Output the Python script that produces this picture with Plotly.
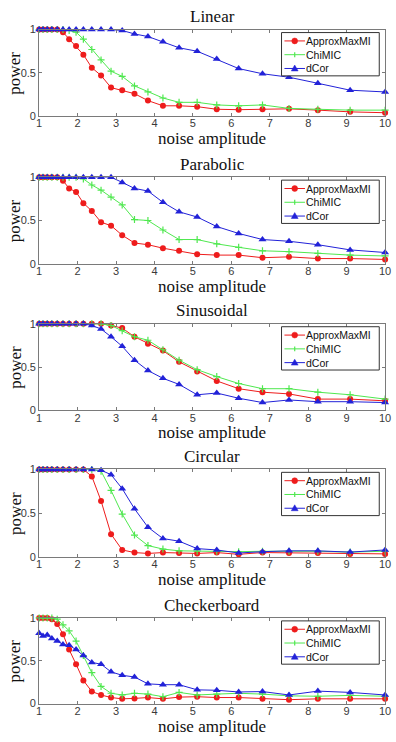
import plotly.graph_objects as go

# ---- data ----
noise = [1.00, 1.10, 1.21, 1.33, 1.47, 1.62, 1.78, 1.96, 2.15, 2.37, 2.61, 2.87, 3.16,
         3.48, 3.83, 4.22, 4.64, 5.11, 5.62, 6.19, 6.81, 7.50, 8.25, 9.09, 10.00]

panels = ["Linear", "Parabolic", "Sinusoidal", "Circular", "Checkerboard"]
series_names = ["ApproxMaxMI", "ChiMIC", "dCor"]

linear_approx = [1, 1, 1, 1, 1, 0.97, 0.89, 0.81, 0.71, 0.56, 0.47, 0.33, 0.30, 0.26, 0.18,
                 0.12, 0.12, 0.11, 0.08, 0.075, 0.08, 0.085, 0.07, 0.05, 0.04]
linear_chimic = [1, 1, 1, 1, 1, 1, 0.99, 0.97, 0.89, 0.77, 0.65, 0.52, 0.46, 0.35, 0.28,
                 0.21, 0.16, 0.16, 0.13, 0.12, 0.13, 0.09, 0.08, 0.07, 0.07]
linear_dcor = [1, 1, 1, 1, 1, 1, 1, 1, 1, 1, 1, 1, 0.99, 0.95, 0.92,
               0.86, 0.79, 0.75, 0.66, 0.55, 0.49, 0.45, 0.38, 0.30, 0.28]

parabolic_approx = [1, 1, 1, 1, 1, 0.96, 0.87, 0.83, 0.70, 0.61, 0.48, 0.44, 0.33, 0.24, 0.22,
                    0.18, 0.15, 0.11, 0.10, 0.10, 0.07, 0.08, 0.06, 0.06, 0.05]
parabolic_chimic = [1, 1, 1, 1, 1, 1, 1, 1, 0.98, 0.91, 0.85, 0.77, 0.68, 0.51, 0.50,
                    0.39, 0.28, 0.28, 0.23, 0.19, 0.15, 0.14, 0.12, 0.10, 0.09]
parabolic_dcor = [1, 1, 1, 1, 1, 1, 1, 1, 1, 1, 1, 1, 0.94, 0.87, 0.84,
                  0.71, 0.60, 0.54, 0.43, 0.35, 0.28, 0.26, 0.22, 0.16, 0.13]

sinusoidal_approx = [1, 1, 1, 1, 1, 1, 1, 1, 1, 1, 1, 0.98, 0.95, 0.85, 0.77,
                     0.69, 0.56, 0.45, 0.34, 0.25, 0.21, 0.19, 0.13, 0.13, 0.11]
sinusoidal_chimic = [1, 1, 1, 1, 1, 1, 1, 1, 1, 1, 1, 0.98, 0.92, 0.85, 0.81,
                     0.70, 0.58, 0.47, 0.39, 0.31, 0.25, 0.25, 0.21, 0.18, 0.13]
sinusoidal_dcor = [1, 1, 1, 1, 1, 1, 1, 1, 1, 0.98, 0.94, 0.85, 0.74, 0.58, 0.46,
                   0.37, 0.30, 0.18, 0.20, 0.14, 0.09, 0.12, 0.10, 0.10, 0.09]

circular_approx = [1, 1, 1, 1, 1, 1, 1, 1, 1, 0.92, 0.64, 0.26, 0.08, 0.05, 0.04,
                   0.05, 0.045, 0.04, 0.05, 0.03, 0.05, 0.045, 0.045, 0.035, 0.035]
circular_chimic = [1, 1, 1, 1, 1, 1, 1, 1, 1, 1, 0.98, 0.76, 0.49, 0.25, 0.13,
                   0.09, 0.07, 0.065, 0.065, 0.06, 0.065, 0.065, 0.065, 0.055, 0.065]
circular_dcor = [1, 1, 1, 1, 1, 1, 1, 1, 1, 1, 0.99, 0.94, 0.78, 0.55, 0.34,
                 0.21, 0.18, 0.095, 0.08, 0.045, 0.06, 0.07, 0.07, 0.055, 0.08]

checker_approx = [1, 1, 1, 0.985, 0.93, 0.81, 0.63, 0.46, 0.27, 0.14, 0.10, 0.07, 0.055, 0.06, 0.07,
                  0.055, 0.075, 0.08, 0.07, 0.07, 0.055, 0.045, 0.055, 0.055, 0.055]
checker_chimic = [1, 1, 1, 1, 0.985, 0.92, 0.85, 0.73, 0.56, 0.36, 0.20, 0.12, 0.10, 0.12, 0.11,
                  0.08, 0.13, 0.10, 0.11, 0.12, 0.11, 0.09, 0.085, 0.095, 0.085]
checker_dcor = [0.82, 0.79, 0.80, 0.76, 0.73, 0.69, 0.68, 0.63, 0.56, 0.48, 0.46, 0.37, 0.33, 0.31, 0.23,
                0.22, 0.22, 0.16, 0.155, 0.135, 0.14, 0.10, 0.145, 0.13, 0.10]

panel_data = [
    (linear_approx, linear_chimic, linear_dcor),
    (parabolic_approx, parabolic_chimic, parabolic_dcor),
    (sinusoidal_approx, sinusoidal_chimic, sinusoidal_dcor),
    (circular_approx, circular_chimic, circular_dcor),
    (checker_approx, checker_chimic, checker_dcor),
]

x_ticks = [1, 2, 3, 4, 5, 6, 7, 8, 9, 10]
y_ticks = [0, 0.5, 1]
y_tick_text = ["0", "0.5", "1"]

# ---- styling ----
W, H = 396, 742
colors = ["#ee1c1c", "#4fe84f", "#2222d8"]
markers = [
    dict(symbol="circle", size=6),
    dict(symbol="cross-thin", size=5, line=dict(width=1.2)),
    dict(symbol="triangle-up", size=7),
]
# plot box in pixels: (top, bottom)
boxes = [(24, 112), (174, 262), (323, 411), (471, 560), (622, 709)]
x_left, x_right = 37, 391
axis_gray = "#7a7a7a"
sans = "Arial, Liberation Sans, sans-serif"
tick_font = dict(family=sans, size=11, color="#3a3a3a")
serif = dict(family="Times New Roman, Liberation Serif, serif", size=17, color="#111111")

# legend geometry (pixels)
leg_left, leg_right = 285, 385
leg_top_off, leg_height = 3, 44
leg_row_offs = [8.5, 22.5, 36.5]
leg_line_x0, leg_line_x1 = 288, 309
leg_text_x = 309


def px(x):
    return x / W


def py(y):
    return 1 - y / H


fig = go.Figure()
layout = dict(width=W, height=H, margin=dict(l=0, r=0, t=0, b=0),
              paper_bgcolor="white", plot_bgcolor="white",
              annotations=[], shapes=[], showlegend=False)

for i, (title, data) in enumerate(zip(panels, panel_data)):
    k = i + 1
    xa = "x" if k == 1 else f"x{k}"
    ya = "y" if k == 1 else f"y{k}"
    for j, (name, vals) in enumerate(zip(series_names, data)):
        m = dict(markers[j])
        m["color"] = colors[j]
        if "line" in m:
            m["line"] = dict(m["line"], color=colors[j])
        fig.add_trace(go.Scatter(
            x=noise, y=vals, name=name, mode="lines+markers",
            line=dict(color=colors[j], width=1), marker=m,
            xaxis=xa, yaxis=ya, cliponaxis=False, showlegend=False,
        ))
    top, bot = boxes[i]
    axis_common = dict(showline=True, linecolor=axis_gray, linewidth=1, mirror="ticks",
                       ticks="inside", ticklen=3, tickcolor=axis_gray, showgrid=False,
                       zeroline=False, tickfont=tick_font, fixedrange=True,
                       ticklabeloverflow="allow")
    layout["xaxis" if k == 1 else f"xaxis{k}"] = dict(
        axis_common, domain=[px(x_left), px(x_right)], range=[1, 10],
        tickvals=x_ticks, anchor=ya, ticklabelstandoff=-3)
    layout["yaxis" if k == 1 else f"yaxis{k}"] = dict(
        axis_common, domain=[py(bot), py(top)], range=[0, 1],
        tickvals=y_ticks, ticktext=y_tick_text, anchor=xa)

    # ---- legend box (drawn like the MATLAB legend) ----
    lt = top + leg_top_off
    layout["shapes"].append(dict(
        type="rect", xref="paper", yref="paper",
        x0=px(leg_left), x1=px(leg_right), y0=py(lt + leg_height), y1=py(lt),
        fillcolor="white", line=dict(color="#333333", width=1)))
    for j, name in enumerate(series_names):
        ry = lt + leg_row_offs[j]
        c = colors[j]
        mx = (leg_line_x0 + leg_line_x1) / 2
        layout["shapes"].append(dict(
            type="line", xref="paper", yref="paper",
            x0=px(leg_line_x0), x1=px(leg_line_x1), y0=py(ry), y1=py(ry),
            line=dict(color=c, width=1)))
        if j == 0:
            layout["shapes"].append(dict(
                type="circle", xref="paper", yref="paper",
                x0=px(mx - 3), x1=px(mx + 3), y0=py(ry + 3), y1=py(ry - 3),
                fillcolor=c, line=dict(color=c, width=0.5)))
        elif j == 1:
            layout["shapes"].append(dict(
                type="line", xref="paper", yref="paper",
                x0=px(mx), x1=px(mx), y0=py(ry + 2.5), y1=py(ry - 2.5),
                line=dict(color=c, width=1.2)))
        else:
            path = (f"M {px(mx)},{py(ry - 3.5)} L {px(mx - 3.5)},{py(ry + 2.5)} "
                    f"L {px(mx + 3.5)},{py(ry + 2.5)} Z")
            layout["shapes"].append(dict(
                type="path", xref="paper", yref="paper", path=path,
                fillcolor=c, line=dict(color=c, width=0.5)))
        layout["annotations"].append(dict(
            text=name, x=px(leg_text_x), y=py(ry), xref="paper", yref="paper",
            xanchor="left", yanchor="middle", showarrow=False, borderpad=0,
            font=dict(family=sans, size=10.5, color="#111111")))

    cx = px((x_left + x_right) / 2)
    layout["annotations"].append(dict(
        text=title, x=cx, y=py(top - 13), xref="paper", yref="paper",
        xanchor="center", yanchor="middle", showarrow=False, font=serif))
    layout["annotations"].append(dict(
        text="noise amplitude", x=cx, y=py(bot + 23), xref="paper", yref="paper",
        xanchor="center", yanchor="middle", showarrow=False, font=serif))
    layout["annotations"].append(dict(
        text="power", x=px(12), y=py((top + bot) / 2), xref="paper", yref="paper",
        xanchor="center", yanchor="middle", showarrow=False, font=serif, textangle=-90))

fig.update_layout(**layout)
fig.write_html("out.html")
